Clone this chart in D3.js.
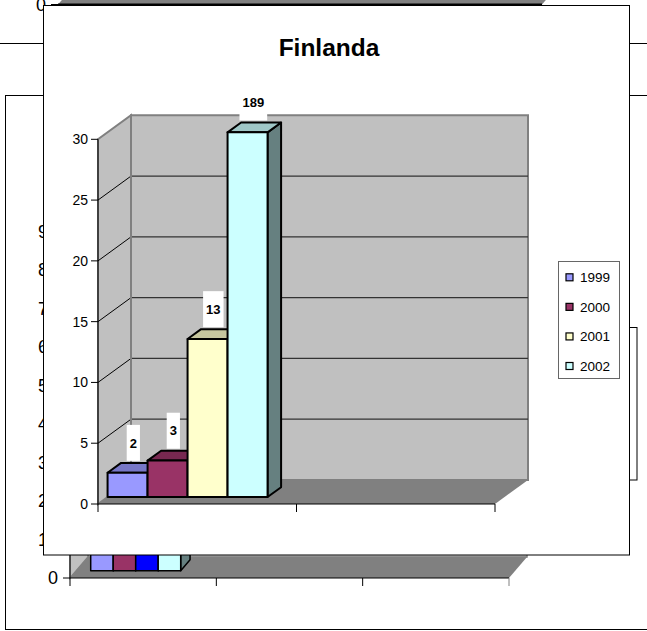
<!DOCTYPE html>
<html>
<head>
<meta charset="utf-8">
<script src="https://cdn.jsdelivr.net/npm/d3@7"></script>
<style>
  html, body { margin: 0; padding: 0; background: #fff; }
  svg { display: block; font-family: "Liberation Sans", Arial, sans-serif; }
</style>
</head>
<body>
<svg id="chart" width="647" height="631"></svg>
<script>
// ---- data ----
const years = ["1999", "2000", "2001", "2002"];
const finlandaValues = [2, 3, 13, 189];
const finlandaColors = ["#9999FF", "#993366", "#FFFFCC", "#CCFFFF"];
const finlandaTicks = [0, 5, 10, 15, 20, 25, 30];
const finlandaCategories = [1, 2];

// sheet charts lying underneath the Finlanda chart
const lowerValues = [30, 25, 20, 45];
const lowerColors = ["#9999FF", "#993366", "#0000FF", "#CCFFFF"];
const lowerTicks = [0, 10, 20, 30, 40, 50, 60, 70, 80, 90];
const lowerCategories = [1, 2, 3];
const upperTicks = [0];

const svg = d3.select("#chart");

function shade(c, k) {
  const r = d3.rgb(c);
  return d3.rgb(r.r * k, r.g * k, r.b * k).formatHex();
}
const line = d3.line();

// Draws a 3D bar from its value through the given scales.
function bar3d(g, opt) {
  const { xl, xr, y0, yv, df, db, dx, dy, color, sw } = opt;
  const P = (x, y, d) => [x + d * dx, y + d * dy];
  const poly = pts => line(pts) + "Z";
  g.append("path")
    .attr("d", poly([P(xr, y0, df), P(xr, y0, db), P(xr, yv, db), P(xr, yv, df)]))
    .attr("fill", shade(color, 0.5)).attr("stroke", "#000").attr("stroke-width", sw).attr("stroke-linejoin", "round");
  g.append("path")
    .attr("d", poly([P(xl, yv, df), P(xr, yv, df), P(xr, yv, db), P(xl, yv, db)]))
    .attr("fill", shade(color, 0.78)).attr("stroke", "#000").attr("stroke-width", sw).attr("stroke-linejoin", "round");
  g.append("path")
    .attr("d", poly([P(xl, y0, df), P(xr, y0, df), P(xr, yv, df), P(xl, yv, df)]))
    .attr("fill", color).attr("stroke", "#000").attr("stroke-width", sw).attr("stroke-linejoin", "round");
}

// ================= upper sheet chart (mostly off the page) =================
(function upper() {
  const g = svg.append("g");
  g.append("rect").attr("x", -5.5).attr("y", -300).attr("width", 660).attr("height", 343.5)
    .attr("fill", "#fff").attr("stroke", "#000").attr("stroke-width", 1);
  const y = d3.scaleLinear().domain([0, 90]).range([4.5, -342]);
  const x = d3.scaleBand().domain([1, 2, 3]).range([58, 542]);
  const x0 = x.range()[0], x1 = x.range()[1], yb = y(0);
  g.append("path").attr("d", line([[x0, yb], [x1, yb], [x1 + 18, yb - 21], [x0 + 18, yb - 21]]) + "Z")
    .attr("fill", "#808080");
  g.append("line").attr("x1", x0).attr("x2", x1).attr("y1", yb).attr("y2", yb)
    .attr("stroke", "#000").attr("stroke-width", 2);
  g.selectAll("text.t").data(upperTicks).join("text")
    .attr("x", x0 - 12).attr("y", d => y(d)).attr("dy", "0.35em")
    .attr("text-anchor", "end").attr("font-size", 18).attr("fill", "#000").text(d => d);
  g.selectAll("line.tk").data(upperTicks).join("line")
    .attr("x1", x0 - 7).attr("x2", x0).attr("y1", d => y(d)).attr("y2", d => y(d))
    .attr("stroke", "#000");
})();

// ================= lower sheet chart =================
(function lower() {
  const g = svg.append("g");
  g.append("rect").attr("x", 5.5).attr("y", 95.5).attr("width", 700).attr("height", 534)
    .attr("fill", "#fff").attr("stroke", "#000").attr("stroke-width", 1);

  const y = d3.scaleLinear().domain([0, 90]).range([578, 231.5]);
  const x = d3.scaleBand().domain(lowerCategories).range([70, 509]);
  const dx = 18, dy = -21;
  const x0 = 70, x1 = 509, yb = y(0), yt = y(90);

  // walls and floor
  g.append("path").attr("d", line([[x0 + dx, yb + dy], [x1 + dx, yb + dy], [x1 + dx, yt + dy], [x0 + dx, yt + dy]]) + "Z")
    .attr("fill", "#c0c0c0").attr("stroke", "#808080").attr("stroke-width", 1.5);
  g.append("path").attr("d", line([[x0, yb], [x0 + dx, yb + dy], [x0 + dx, yt + dy], [x0, yt]]) + "Z")
    .attr("fill", "#c0c0c0").attr("stroke", "#808080").attr("stroke-width", 1.5);
  g.append("path").attr("d", line([[x0, yb], [x1, yb], [x1 + dx, yb + dy], [x0 + dx, yb + dy]]) + "Z")
    .attr("fill", "#808080");

  // bars of the first category
  const s = d3.scaleBand().domain(years).range([14.4, 104.4]);
  lowerValues.forEach((v, i) => {
    const xl = x(lowerCategories[0]) + s(years[i]);
    bar3d(g, { xl, xr: xl + s.bandwidth(), y0: yb, yv: y(v), df: 0.35, db: 0.87, dx, dy,
      color: lowerColors[i], sw: 1.5 });
  });

  // axes
  g.append("line").attr("x1", x0).attr("x2", x0).attr("y1", yt).attr("y2", yb).attr("stroke", "#000");
  g.append("line").attr("x1", x0).attr("x2", x1).attr("y1", yb).attr("y2", yb).attr("stroke", "#000");
  g.selectAll("line.yt").data(lowerTicks).join("line")
    .attr("x1", x0 - 7).attr("x2", x0).attr("y1", d => y(d)).attr("y2", d => y(d)).attr("stroke", "#000");
  g.selectAll("text.yl").data(lowerTicks).join("text")
    .attr("x", x0 - 12).attr("y", d => y(d)).attr("dy", "0.36em")
    .attr("text-anchor", "end").attr("font-size", 18).attr("fill", "#000").text(d => d);
  const bounds = lowerCategories.map(c => x(c)).concat([x1]);
  g.selectAll("line.xt").data(bounds).join("line")
    .attr("x1", d => d).attr("x2", d => d).attr("y1", yb).attr("y2", yb + 8)
    .attr("stroke", (d, i) => i === bounds.length - 1 ? "#808080" : "#000");

  // legend box
  g.append("rect").attr("x", 540.5).attr("y", 327.5).attr("width", 96.5).attr("height", 152.5)
    .attr("fill", "#fff").attr("stroke", "#000");
})();

// ================= Finlanda chart =================
(function finlanda() {
  const g = svg.append("g");
  g.append("rect").attr("x", 43.5).attr("y", 5.5).attr("width", 586).attr("height", 549.5)
    .attr("fill", "#fff").attr("stroke", "#000").attr("stroke-width", 1);

  g.append("text").attr("x", 329).attr("y", 56).attr("text-anchor", "middle")
    .attr("font-size", 24.5).attr("font-weight", "bold").attr("fill", "#000").text("Finlanda");

  const y = d3.scaleLinear().domain([0, 30]).range([504, 139.3]).clamp(true);
  const x = d3.scaleBand().domain(finlandaCategories).range([98, 495]);
  const dx = 33, dy = -24;
  const x0 = x.range()[0], x1 = x.range()[1], yb = y(0), yt = y(30);

  // back wall, side wall, floor
  g.append("path").attr("d", line([[x0 + dx, yb + dy], [x1 + dx, yb + dy], [x1 + dx, yt + dy], [x0 + dx, yt + dy]]) + "Z")
    .attr("fill", "#c0c0c0").attr("stroke", "#808080").attr("stroke-width", 2);
  g.append("path").attr("d", line([[x0, yb], [x0 + dx, yb + dy], [x0 + dx, yt + dy], [x0, yt]]) + "Z")
    .attr("fill", "#c0c0c0").attr("stroke", "#808080").attr("stroke-width", 2);
  g.append("path").attr("d", line([[x0, yb], [x1, yb], [x1 + dx, yb + dy], [x0 + dx, yb + dy]]) + "Z")
    .attr("fill", "#808080");

  // gridlines
  const inner = finlandaTicks.filter(t => t > 0 && t < 30);
  g.selectAll("line.gb").data(inner).join("line")
    .attr("x1", x0 + dx).attr("x2", x1 + dx).attr("y1", d => y(d) + dy).attr("y2", d => y(d) + dy)
    .attr("stroke", "#333").attr("stroke-width", 1.2);
  g.selectAll("line.gs").data(inner).join("line")
    .attr("x1", x0).attr("x2", x0 + dx).attr("y1", d => y(d)).attr("y2", d => y(d) + dy)
    .attr("stroke", "#000").attr("stroke-width", 1);
  g.append("line").attr("x1", x0 + dx).attr("x2", x0 + dx).attr("y1", yt + dy).attr("y2", yb + dy)
    .attr("stroke", "#808080").attr("stroke-width", 2);

  // bars
  const s = d3.scaleBand().domain(years).range([0, x.bandwidth() * 0.806]);
  const df = 0.29, db = 0.70;
  const labels = [];
  finlandaValues.forEach((v, i) => {
    const xl = x(finlandaCategories[0]) + s(years[i]);
    const xr = xl + s.bandwidth();
    const yv = y(v);
    bar3d(g, { xl, xr, y0: yb, yv, df, db, dx, dy, color: finlandaColors[i], sw: 2 });
    labels.push({ v, cx: (xl + xr) / 2 + dx * (df + db) / 2 - 1, cy: yv + dy * db - 20 });
  });

  // value labels
  labels.forEach(d => {
    const t = g.append("text").attr("x", d.cx).attr("y", d.cy).attr("dy", "0.36em")
      .attr("text-anchor", "middle").attr("font-size", 13).attr("font-weight", "bold")
      .attr("fill", "#000").text(d.v);
    const w = t.node().getComputedTextLength() + 6;
    g.insert("rect", () => t.node())
      .attr("x", d.cx - w / 2).attr("y", d.cy - 18).attr("width", w).attr("height", 36).attr("fill", "#fff");
  });

  // axes
  g.append("line").attr("x1", x0).attr("x2", x0).attr("y1", yt).attr("y2", yb).attr("stroke", "#000");
  g.append("line").attr("x1", x0).attr("x2", x1).attr("y1", yb).attr("y2", yb).attr("stroke", "#000");
  g.selectAll("line.yt").data(finlandaTicks).join("line")
    .attr("x1", x0 - 7).attr("x2", x0).attr("y1", d => y(d)).attr("y2", d => y(d)).attr("stroke", "#000");
  g.selectAll("text.yl").data(finlandaTicks).join("text")
    .attr("x", x0 - 10).attr("y", d => y(d)).attr("dy", "0.36em")
    .attr("text-anchor", "end").attr("font-size", 14).attr("fill", "#000").text(d => d);
  const bounds = finlandaCategories.map(c => x(c)).concat([x1]);
  g.selectAll("line.xt").data(bounds).join("line")
    .attr("x1", d => d).attr("x2", d => d).attr("y1", yb).attr("y2", yb + 8).attr("stroke", "#000");

  // legend
  const lg = g.append("g");
  lg.append("rect").attr("x", 558.5).attr("y", 261.5).attr("width", 61).attr("height", 117)
    .attr("fill", "#fff").attr("stroke", "#666");
  const ly = d3.scalePoint().domain(years).range([277.3, 366]);
  years.forEach((yr, i) => {
    lg.append("rect").attr("x", 566).attr("y", ly(yr) - 3.5).attr("width", 7).attr("height", 7)
      .attr("fill", finlandaColors[i]).attr("stroke", "#000").attr("stroke-width", 1.2);
    lg.append("text").attr("x", 580).attr("y", ly(yr)).attr("dy", "0.36em")
      .attr("font-size", 13.5).attr("fill", "#000").text(yr);
  });
})();
</script>
</body>
</html>
